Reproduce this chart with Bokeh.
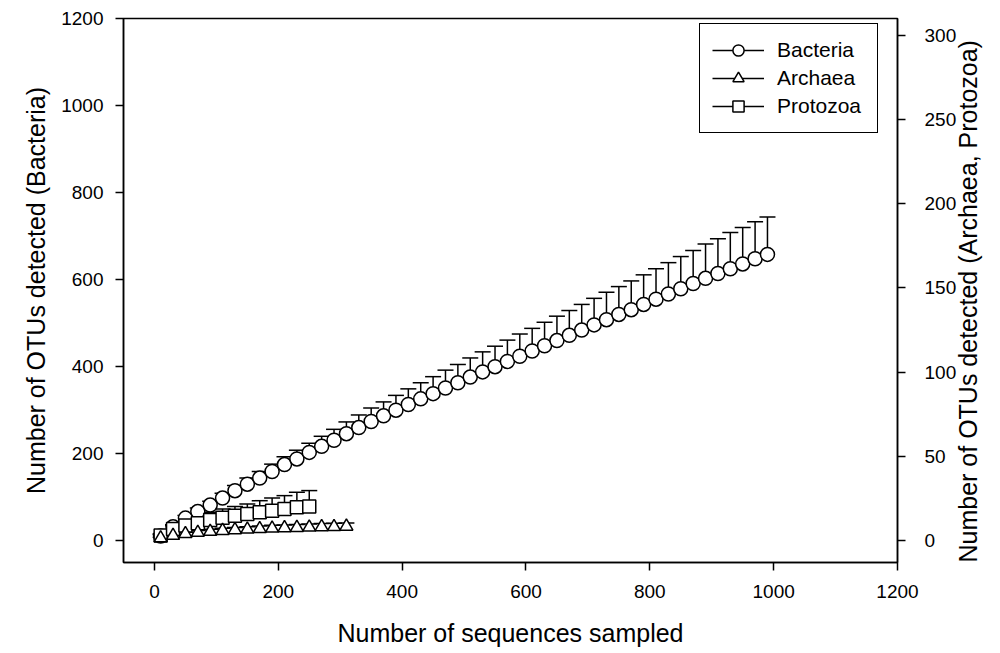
import math
from bokeh.plotting import figure
from bokeh.models import (ColumnDataSource, Range1d, LinearAxis, Whisker, TeeHead,
                          Legend, LegendItem, FixedTicker)
from bokeh.embed import file_html
from bokeh.resources import INLINE

FONT = "Liberation Sans"

# ---- data ----
bac_x = [10, 30, 50, 70, 90, 110, 130, 150, 170, 190, 210, 230, 250, 270, 290,
         310, 330, 350, 370, 390, 410, 430, 450, 470, 490, 510, 530, 550, 570, 590,
         610, 630, 650, 670, 690, 710, 730, 750, 770, 790, 810, 830, 850, 870, 890,
         910, 930, 950, 970, 990]
bac_y = [11, 32, 52, 67, 82, 98, 115, 130, 144, 159, 175, 188, 203, 217, 231,
         246, 260, 274, 287, 300, 313, 326, 338, 351, 363, 376, 388, 400, 412, 424,
         436, 448, 460, 472, 484, 496, 508, 520, 531, 543, 555, 567, 579, 591, 603,
         614, 625, 636, 648, 658]
bac_err = [3, 5, 6, 8, 9, 11, 12, 14, 15, 17, 18, 20, 21, 23, 25,
           27, 29, 31, 32, 34, 36, 37, 39, 41, 42, 44, 46, 47, 49, 51,
           52, 54, 56, 57, 59, 61, 63, 64, 66, 68, 70, 72, 74, 76, 79,
           80, 83, 84, 85, 86]

arc_x = [10, 30, 50, 70, 90, 110, 130, 150, 170, 190, 210, 230, 250, 270, 290, 310]
arc_y = [1.5, 3.0, 4.0, 4.8, 5.4, 5.9, 6.3, 6.7, 7.0, 7.3, 7.5, 7.7, 7.9, 8.1, 8.2, 8.4]
arc_err = [0.5, 0.8, 1.0, 1.2, 1.3, 1.4, 1.5, 1.6, 1.7, 1.8, 1.8, 1.9, 2.0, 2.0, 2.1, 2.1]

pro_x = [10, 30, 50, 70, 90, 110, 130, 150, 170, 190, 210, 230, 250]
pro_y = [3.0, 6.9, 8.9, 10.3, 12.3, 13.5, 14.8, 15.8, 16.8, 17.8, 18.8, 19.8, 20.2]
pro_err = [1.0, 2.0, 2.0, 3.5, 4.5, 5.3, 5.4, 6.0, 6.9, 7.5, 7.9, 8.9, 9.5]

x_ticks = [0, 200, 400, 600, 800, 1000, 1200]
yl_ticks = [0, 200, 400, 600, 800, 1000, 1200]
yr_ticks = [0, 50, 100, 150, 200, 250, 300]

x_label = "Number of sequences sampled"
yl_label = "Number of OTUs detected (Bacteria)"
yr_label = "Number of OTUs detected (Archaea, Protozoa)"

def src(xs, ys, es):
    return ColumnDataSource(data=dict(x=xs, y=ys, top=[a + b for a, b in zip(ys, es)]))

bac_src = src(bac_x, bac_y, bac_err)
arc_src = src(arc_x, arc_y, arc_err)
pro_src = src(pro_x, pro_y, pro_err)

p = figure(width=1000, height=653, output_backend="svg", toolbar_location=None,
           x_range=Range1d(-50, 1200), y_range=Range1d(-50, 1200),
           min_border_left=123, min_border_right=103, min_border_top=18,
           min_border_bottom=91)
p.extra_y_ranges = {"right": Range1d(-13, 310),
                    # range used only so the legend's line swatch has a renderer
                    "swatch": Range1d(5000, 6000)}
p.xgrid.visible = False
p.ygrid.visible = False
p.outline_line_color = "black"
p.outline_line_width = 1.5
p.outline_line_alpha = 1.0

right_axis = LinearAxis(y_range_name="right")
p.add_layout(right_axis, "right")

def style(ax, ticks, label, lstand, astand):
    ax.ticker = FixedTicker(ticks=ticks)
    ax.minor_tick_line_color = None
    ax.major_tick_in = 0
    ax.major_tick_out = 8
    ax.major_tick_line_width = 1.5
    ax.major_tick_line_color = "black"
    ax.axis_line_width = 1.5
    ax.axis_line_color = "black"
    ax.major_label_text_font = FONT
    ax.major_label_text_font_size = "19px"
    ax.major_label_text_color = "black"
    ax.major_label_standoff = lstand
    ax.axis_label = label
    ax.axis_label_text_font = FONT
    ax.axis_label_text_font_size = "25px"
    ax.axis_label_text_font_style = "normal"
    ax.axis_label_text_color = "black"
    ax.axis_label_standoff = astand

style(p.xaxis[0], x_ticks, x_label, 14, 18)
style(p.yaxis[0], yl_ticks, yl_label, 12, 8)
style(right_axis, yr_ticks, yr_label, 19, 9)
right_axis.axis_label_orientation = math.pi / 2
try:
    right_axis.axis_label_align = "start"
except AttributeError:
    pass

LW = 1.5

def whisk(source, rname=None):
    w = Whisker(source=source, base="x", lower="y", upper="top",
                upper_head=TeeHead(size=16, line_width=LW, line_color="black"),
                lower_head=None, line_width=LW, line_color="black", level="underlay")
    if rname:
        w.y_range_name = rname
    p.add_layout(w)

whisk(bac_src)
whisk(pro_src, "right")
whisk(arc_src, "right")

r_bac = p.scatter("x", "y", source=bac_src, marker="circle", size=14,
                  fill_color="white", line_color="black", line_width=LW)
r_pro = p.scatter("x", "y", source=pro_src, marker="square", size=13,
                  fill_color="white", line_color="black", line_width=LW,
                  y_range_name="right")
r_arc = p.scatter("x", "y", source=arc_src, marker="triangle", size=13,
                  fill_color="white", line_color="black", line_width=LW,
                  y_range_name="right")

# line renderer placed on an off-screen range: it only supplies the legend swatch
l_line = p.line("x", "y", source=bac_src, y_range_name="swatch",
                line_color="black", line_width=LW)

legend = Legend(items=[
    LegendItem(label="Bacteria", renderers=[l_line, r_bac]),
    LegendItem(label="Archaea", renderers=[l_line, r_arc]),
    LegendItem(label="Protozoa", renderers=[l_line, r_pro]),
], location=(576, 429))
legend.padding = 12
legend.spacing = 0
legend.glyph_width = 52
legend.glyph_height = 28
legend.label_standoff = 13
legend.label_width = 88
legend.label_height = 28
legend.label_text_font = FONT
legend.label_text_font_size = "21px"
legend.label_text_color = "black"
legend.border_line_color = "black"
legend.border_line_width = LW
legend.border_line_alpha = 1.0
legend.background_fill_color = "white"
legend.background_fill_alpha = 1.0
legend.margin = 0
p.add_layout(legend, "center")

open("out.html", "w").write(file_html(p, INLINE))
